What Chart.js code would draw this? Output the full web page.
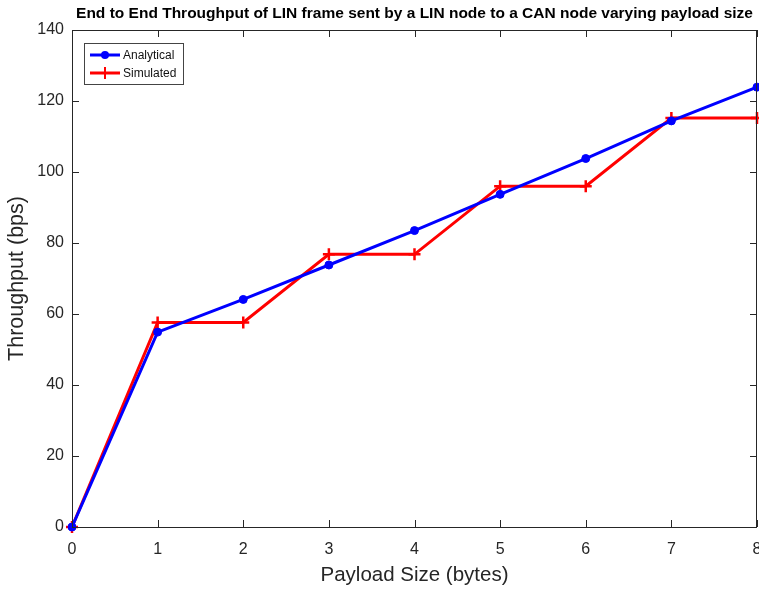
<!DOCTYPE html>
<html>
<head>
<meta charset="utf-8">
<script src="https://cdn.jsdelivr.net/npm/chart.js@4.4.1/dist/chart.umd.min.js"></script>
<style>
  html, body { margin: 0; padding: 0; background: #fff; }
  #wrap { width: 759px; height: 589px; }
</style>
</head>
<body>
<div id="wrap"><canvas id="chart" width="759" height="589"></canvas></div>
<script>
// Data
const payloadSizes = [0, 1, 2, 3, 4, 5, 6, 7, 8];
const analytical = [0, 54.9, 64.1, 73.8, 83.5, 93.7, 103.8, 114.4, 123.9];
const simulated = [0, 57.6, 57.6, 76.8, 76.8, 96, 96, 115.2, 115.2];
const yTicks = [0, 20, 40, 60, 80, 100, 120, 140];
const chartTitle = 'End to End Throughput of LIN frame sent by a LIN node to a CAN node varying payload size';

const FONT = '"Liberation Sans", Arial, sans-serif';
const AXIS_COLOR = '#262626';

// MATLAB style box with inward ticks, legend inside the axes, title over the axes
const boxTicks = {
    id: 'boxTicks',
    afterDatasetsDraw(chart) {
        const { ctx, chartArea: a, scales } = chart;
        ctx.save();
        ctx.strokeStyle = AXIS_COLOR;
        ctx.lineWidth = 1;
        ctx.strokeRect(a.left + 0.5, a.top + 0.5, a.right - a.left - 1, a.bottom - a.top);
        ctx.beginPath();
        payloadSizes.forEach(v => {
            const x = Math.round(scales.x.getPixelForValue(v)) + 0.5;
            ctx.moveTo(x, a.bottom); ctx.lineTo(x, a.bottom - 7);
            ctx.moveTo(x, a.top); ctx.lineTo(x, a.top + 7);
        });
        yTicks.forEach(v => {
            const y = Math.round(scales.y.getPixelForValue(v)) + 0.5;
            ctx.moveTo(a.left, y); ctx.lineTo(a.left + 7, y);
            ctx.moveTo(a.right, y); ctx.lineTo(a.right - 7, y);
        });
        ctx.stroke();

        // title centred over the plot area
        ctx.fillStyle = '#000';
        ctx.font = 'bold 15.5px ' + FONT;
        ctx.textAlign = 'center';
        ctx.textBaseline = 'middle';
        ctx.fillText(chartTitle, (a.left + a.right) / 2, 14);

        // legend box inside the axes
        const lx = 84, ly = 43, lw = 99, lh = 41;
        ctx.fillStyle = '#fff';
        ctx.fillRect(lx, ly, lw, lh);
        ctx.strokeStyle = '#444';
        ctx.lineWidth = 1;
        ctx.strokeRect(lx + 0.5, ly + 0.5, lw, lh);
        ctx.textAlign = 'left';
        chart.data.datasets.forEach((ds, i) => {
            const cy = ly + 12 + i * 18;
            ctx.strokeStyle = ds.borderColor;
            ctx.lineWidth = 3;
            ctx.beginPath(); ctx.moveTo(lx + 6, cy); ctx.lineTo(lx + 36, cy); ctx.stroke();
            if (ds.pointStyle === 'circle') {
                ctx.fillStyle = ds.borderColor;
                ctx.beginPath(); ctx.arc(lx + 21, cy, 4, 0, Math.PI * 2); ctx.fill();
            } else {
                ctx.lineWidth = 2;
                ctx.beginPath(); ctx.moveTo(lx + 21, cy - 6); ctx.lineTo(lx + 21, cy + 6); ctx.stroke();
            }
            ctx.fillStyle = '#111';
            ctx.font = '12px ' + FONT;
            ctx.fillText(ds.label, lx + 39, cy + 1);
        });
        ctx.restore();
    }
};

new Chart(document.getElementById('chart'), {
    type: 'line',
    data: {
        labels: payloadSizes,
        datasets: [
            {
                label: 'Analytical',
                data: payloadSizes.map((x, i) => ({ x, y: analytical[i] })),
                borderColor: '#0000ff', backgroundColor: '#0000ff',
                borderWidth: 3, pointStyle: 'circle', pointRadius: 4, pointBorderWidth: 1,
                tension: 0
            },
            {
                label: 'Simulated',
                data: payloadSizes.map((x, i) => ({ x, y: simulated[i] })),
                borderColor: '#ff0000', backgroundColor: '#ff0000',
                borderWidth: 3, pointStyle: 'cross', pointRadius: 6, pointBorderWidth: 2.5,
                tension: 0
            }
        ]
    },
    options: {
        responsive: false,
        animation: false,
        clip: false,
        layout: { autoPadding: false, padding: { top: 30, right: 2, left: 0, bottom: 0 } },
        plugins: {
            legend: { display: false },
            tooltip: { enabled: false },
            title: { display: false }
        },
        scales: {
            x: {
                type: 'linear', min: 0, max: 8,
                afterBuildTicks: s => { s.ticks = payloadSizes.map(v => ({ value: v })); },
                grid: { display: false, drawTicks: false },
                border: { display: false },
                ticks: { color: AXIS_COLOR, padding: 13, font: { family: FONT, size: 16 } },
                title: { display: true, text: 'Payload Size (bytes)', color: AXIS_COLOR,
                         font: { family: FONT, size: 20.5 }, padding: { top: 0, bottom: 1 } },
                afterFit: s => { s.height = 62; s.paddingLeft = 0; s.paddingRight = 0; }
            },
            y: {
                type: 'linear', min: 0, max: 140,
                afterBuildTicks: s => { s.ticks = yTicks.map(v => ({ value: v })); },
                grid: { display: false, drawTicks: false },
                border: { display: false },
                ticks: { color: AXIS_COLOR, padding: 8, font: { family: FONT, size: 16 } },
                title: { display: true, text: 'Throughput (bps)', color: AXIS_COLOR,
                         font: { family: FONT, size: 21.5 }, padding: { top: 4, bottom: 2 } },
                afterFit: s => { s.width = 72; s.paddingTop = 0; s.paddingBottom = 0; }
            }
        }
    },
    plugins: [boxTicks]
});
</script>
</body>
</html>
